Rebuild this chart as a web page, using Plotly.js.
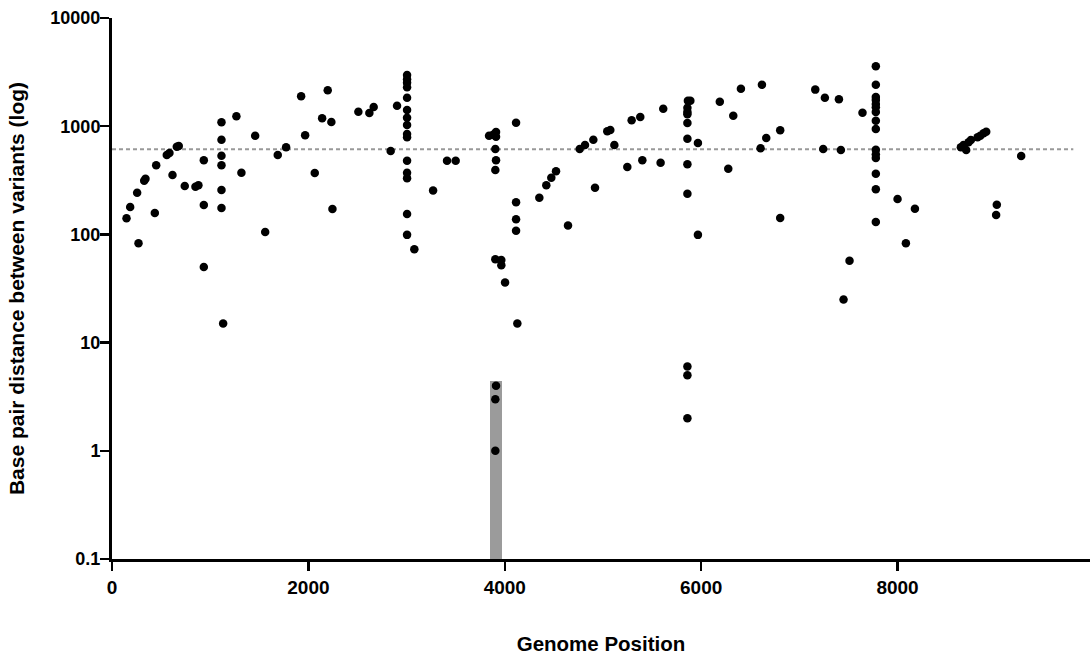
<!DOCTYPE html>
<html>
<head>
<meta charset="utf-8">
<script src="https://cdn.plot.ly/plotly-3.0.1.min.js"></script>
<style>
html,body{margin:0;padding:0;background:#fff;}
#chart{width:1090px;height:658px;}
</style>
</head>
<body>
<div id="chart"></div>
<script>
// Genome position of each variant and distance (bp) to its neighbour
const genomePos = [
  148,185,256,270,328,341,436,450,558,585,616,660,680,741,850,880,935,935,935,
  1115,1115,1115,1115,1115,1115,1132,1267,1318,1458,1560,1688,1773,1926,1967,2065,
  2140,2197,2234,2245,2509,2621,2665,2838,2903,
  3005,3005,3005,3005,3005,3005,3005,3005,3005,3005,3005,3005,3005,3005,3005,
  3079,3270,3412,3500,3840,3881,3911,3911,3904,3911,3904,3904,3965,3965,4003,
  4115,4115,4115,4115,4128,
  3911,3904,3904,
  4352,4423,4474,4522,4644,4763,4817,4902,4919,5044,5075,5116,5248,5292,5380,5401,5587,5614,
  5865,5890,5860,5860,5860,5860,5860,5860,5860,5860,5860,5860,
  5967,5967,6190,6276,6327,6405,6605,6619,6663,6805,6805,
  7162,7243,7260,7403,7423,7450,7511,7643,
  7779,7779,7779,7779,7779,7779,7779,7779,7779,7779,7779,7779,7779,7779,7779,
  8000,8085,8177,
  8645,8672,8699,8723,8747,8815,8843,8876,8903,
  9011,9004,9259
];
const bpDistance = [
  141,179,243,83,313,327,158,435,542,565,354,647,656,280,276,284,484,187,50,
  1086,750,533,435,257,175,15,1233,372,817,105,542,638,1889,824,369,
  1183,2148,1093,172,1362,1324,1504,589,1547,
  2972,2712,2523,2291,1834,1412,1199,1026,847,789,480,371,330,154,99,
  73,255,480,480,817,835,884,800,616,484,394,59,58,52,36,
  1077,198,138,108,15,
  4,3,1,
  218,284,334,383,121,616,670,750,270,897,922,670,420,1135,1216,484,460,1452,
  1721,1721,1483,1353,1288,1071,766,444,238,6,5,2,
  699,99,1680,405,1250,2223,624,2420,778,916,142,
  2178,616,1834,1774,603,25,57,1334,
  3578,2420,1862,1746,1604,1496,1353,1124,942,607,550,508,364,261,130,
  212,83,173,
  638,670,603,709,746,789,817,860,889,
  188,151,531
];

// Highlighted region (grey bar)
const regionStart = [3846];
const regionEnd = [3968];
const regionTop = [4.45];

// Dashed reference level
const thresholdSpan = [0, 9790];
const thresholdValue = 611;

// Axis ticks
const xTickVals = [0, 2000, 4000, 6000, 8000];
const yTickVals = [0.1, 1, 10, 100, 1000, 10000];
const yTickText = ['0.1', '1', '10', '100', '1000', '10000'];

const FONT = 'Liberation Sans, Arial, sans-serif';

const traces = [
  {
    type: 'bar',
    x: regionStart.map((s, i) => (s + regionEnd[i]) / 2),
    y: regionTop,
    width: regionStart.map((s, i) => regionEnd[i] - s),
    marker: {color: '#9b9b9b', line: {width: 0}},
    hoverinfo: 'skip',
    showlegend: false
  },
  {
    type: 'scatter',
    mode: 'lines',
    x: thresholdSpan,
    y: thresholdSpan.map(() => thresholdValue),
    line: {color: '#999999', width: 2, dash: '4px,3px'},
    hoverinfo: 'skip',
    showlegend: false
  },
  {
    type: 'scatter',
    mode: 'markers',
    x: genomePos,
    y: bpDistance,
    marker: {color: '#000000', size: 8.5, line: {width: 0}},
    showlegend: false
  }
];

const layout = {
  width: 1090,
  height: 658,
  margin: {l: 112, r: 0, t: 18, b: 99},
  paper_bgcolor: '#ffffff',
  plot_bgcolor: '#ffffff',
  font: {family: FONT, color: '#000000'},
  showlegend: false,
  bargap: 0,
  xaxis: {
    range: [0, 9960],
    tickvals: xTickVals,
    ticks: 'outside',
    ticklen: 9,
    tickwidth: 2.5,
    tickcolor: '#000',
    showline: true,
    linewidth: 3,
    linecolor: '#000',
    showgrid: false,
    zeroline: false,
    tickfont: {family: FONT, size: 19, color: '#000', weight: 'bold'},
    title: {text: '<b>Genome Position</b>', font: {family: FONT, size: 20.5, color: '#000'}, standoff: 40},
    automargin: false
  },
  yaxis: {
    type: 'log',
    range: [-1, 4],
    tickvals: yTickVals,
    ticktext: yTickText,
    ticks: 'outside',
    ticklen: 9,
    tickwidth: 2.5,
    tickcolor: '#000',
    showline: true,
    linewidth: 3,
    linecolor: '#000',
    showgrid: false,
    zeroline: false,
    ticklabelstandoff: -4,
    tickfont: {family: FONT, size: 18, color: '#000', weight: 'bold'},
    title: {text: '<b>Base pair distance between variants (log)</b>', font: {family: FONT, size: 21, color: '#000'}, standoff: 20},
    automargin: false
  }
};

Plotly.newPlot('chart', traces, layout, {staticPlot: true, displayModeBar: false});
</script>
</body>
</html>
